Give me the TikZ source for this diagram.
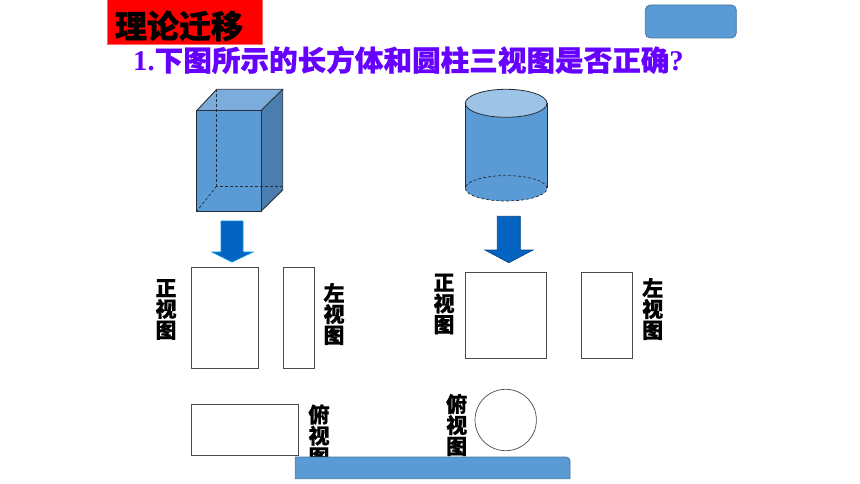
\documentclass[tikz,border=0pt]{standalone}
\usepackage{fontspec}
\usepackage{xcolor}
\setmainfont[BoldFeatures={FakeBold=0.7}]{Noto Sans CJK SC}
\newfontfamily\latinfont{Liberation Serif}
\usetikzlibrary{positioning}
\definecolor{solidblue}{HTML}{5B9BD5}
\definecolor{sideblue}{HTML}{4A7EAE}
\definecolor{topblue}{HTML}{7CACDB}
\definecolor{capblue}{HTML}{9DC3E6}
\definecolor{arrowblue}{HTML}{0563C1}
\definecolor{edgegray}{HTML}{262F38}
\definecolor{titlepurple}{HTML}{6600FF}
\tikzset{
    viewbox/.style = {rectangle, draw=black!70, fill=white, inner sep=0pt, line width=0.9pt},
    viewlabel/.style = {align=center, inner sep=0pt, font=\fontsize{21}{21}\selectfont\bfseries},
    bluebox/.style = {draw=solidblue!75!black, fill=solidblue, line width=0.8pt, rounded corners=2.5pt},
}
\begin{document}
\begin{tikzpicture}[x=1pt, y=-1pt]
\useasboundingbox (0,0) rectangle (860,484);
% title
\node[rectangle, fill=red, draw=red!60!white, inner sep=0pt, minimum width=155pt, minimum height=45pt] at (185,22) (titlebox) {};
\node[inner sep=0pt, font=\fontsize{32}{32}\selectfont\bfseries] at (179,26) (titletext) {理论迁移};
\node[bluebox, rounded corners=5pt, minimum width=91pt, minimum height=33pt, inner sep=0pt] at (690.8,21.5) (tagbox) {};
\node[inner sep=0pt, anchor=west, text=titlepurple, font=\fontsize{28.6}{30}\selectfont\bfseries] at (133,60) (question) {{\latinfont 1.}下图所示的长方体和圆柱三视图是否正确{\latinfont ?}};
% cuboid
\coordinate (fa) at (196.7,110.7);
\coordinate (fb) at (261,110.7);
\coordinate (fc) at (261,211.3);
\coordinate (fd) at (196.7,211.3);
\coordinate (ba) at (216.7,89.3);
\coordinate (bb) at (282.7,89.3);
\coordinate (bc) at (282.7,190);
\coordinate (bd) at (216.7,186);
\fill[solidblue] (fa) -- (fb) -- (fc) -- (fd) -- cycle;
\fill[topblue] (fa) -- (ba) -- (bb) -- (fb) -- cycle;
\fill[sideblue] (fb) -- (bb) -- (bc) -- (fc) -- cycle;
\draw[edgegray, densely dashed, line width=0.7pt] (ba) -- (bd) -- (282.7,186);
\draw[edgegray, densely dashed, line width=0.7pt] (bd) -- (fd);
\draw[edgegray, line width=0.9pt] (fa) -- (fb) -- (fc) -- (fd) -- cycle;
\draw[edgegray, line width=0.9pt] (fa) -- (ba) -- (bb) -- (fb);
\draw[edgegray, line width=0.9pt] (bb) -- (bc) -- (fc);
% cylinder
\fill[solidblue] (465.3,103.3) -- (465.3,188.3) arc[start angle=180, end angle=0, x radius=40.85, y radius=12.7] -- (547,103.3) -- cycle;
\draw[edgegray, line width=0.7pt] (465.3,103.3) -- (465.3,188.3);
\draw[edgegray, line width=0.7pt] (547,103.3) -- (547,188.3);
\draw[edgegray, densely dashed, line width=0.7pt] (465.3,188.3) arc[start angle=180, end angle=-180, x radius=40.85, y radius=12.7];
\draw[edgegray, fill=capblue, line width=0.8pt] (506.15,103.3) ellipse[x radius=40.85, y radius=14];
% arrows
\draw[draw=arrowblue!70!cyan, fill=arrowblue, line width=0.7pt] (221,221) -- (243,221) -- (243,252) -- (253,252) -- (232,262) -- (212,252) -- (221,252) -- cycle;
\draw[draw=arrowblue!70!black, fill=arrowblue, line width=0.7pt] (497.3,216.3) -- (520.3,216.3) -- (520.3,250) -- (533,250) -- (508.8,262.7) -- (485,250) -- (497.3,250) -- cycle;
% left views
\node[viewbox, minimum width=66.6pt, minimum height=101.4pt] at (225,318) (frontleft) {};
\node[viewbox, minimum width=30.7pt, minimum height=101.4pt] at (298.6,318) (sideleft) {};
\node[viewbox, minimum width=107pt, minimum height=51pt] at (245.2,429.8) (topleft) {};
\node[viewlabel] at (166,309.5) (labela) {正\\视\\图};
\node[viewlabel] at (334,314) (labelb) {左\\视\\图};
\node[viewlabel] at (319,435.5) (labelc) {俯\\视\\图};
% right views
\node[viewbox, minimum width=81.7pt, minimum height=86.4pt] at (505.8,315.5) (frontright) {};
\node[viewbox, minimum width=51pt, minimum height=86.4pt] at (607.2,315.5) (sideright) {};
\node[circle, draw=black!70, fill=white, inner sep=0pt, line width=0.7pt, minimum size=61.4pt] at (505.7,420) (topright) {};
\node[viewlabel] at (444,304) (labeld) {正\\视\\图};
\node[viewlabel] at (652.7,309) (labele) {左\\视\\图};
\node[viewlabel] at (456.7,425) (labelf) {俯\\视\\图};
% bottom bar
\draw[draw=solidblue!75!black, fill=solidblue, line width=0.8pt] (295.3,478.7) -- (295.3,457) [rounded corners=4pt] -- (570,457) [sharp corners] -- (570,478.7) -- cycle;
\end{tikzpicture}
\end{document}
